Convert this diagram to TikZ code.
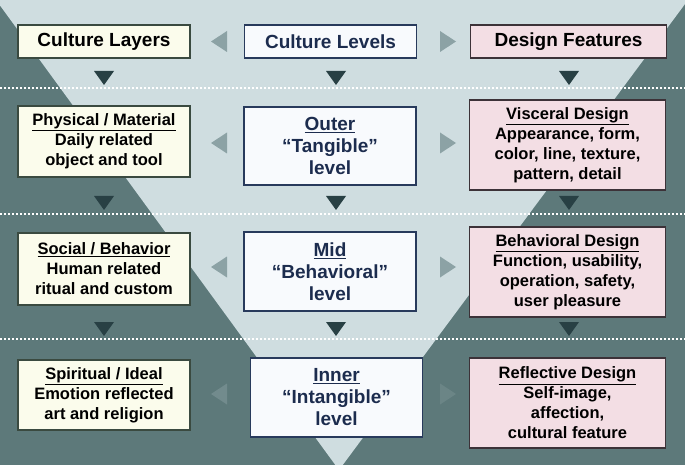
\documentclass[tikz,border=0pt]{standalone}
\usepackage{fontspec}
\setmainfont{Liberation Sans}
\definecolor{bgdark}{RGB}{93,121,122}
\definecolor{bglight}{RGB}{207,221,224}
\definecolor{layerfill}{RGB}{251,252,236}
\definecolor{levelfill}{RGB}{248,250,253}
\definecolor{featfill}{RGB}{243,222,228}
\definecolor{layerline}{RGB}{58,74,64}
\definecolor{levelline}{RGB}{40,58,92}
\definecolor{featline}{RGB}{60,50,56}
\definecolor{levelink}{RGB}{28,44,78}
\definecolor{sidearrow}{RGB}{140,162,165}
\definecolor{downarrow}{RGB}{40,64,68}
\begin{document}
\begin{tikzpicture}[x=1pt,y=-1pt]
    \tikzset{box/.style = {draw,line width=1.3pt,align=center,inner sep=0pt,font=\bfseries\fontsize{16.5}{20}\selectfont}}
    \tikzset{layer/.style = {box,fill=layerfill,draw=layerline,text=black,minimum width=172pt}}
    \tikzset{level/.style = {box,fill=levelfill,draw=levelline,text=levelink,minimum width=172pt,font=\bfseries\fontsize{19}{22}\selectfont}}
    \tikzset{feature/.style = {box,fill=featfill,draw=featline,text=black,minimum width=196pt}}
    \tikzset{band/.style = {white,line width=2pt,dash pattern=on 2pt off 2pt}}
    \useasboundingbox (0,0) rectangle (685,465);
    \clip (0,0) rectangle (685,465);
    \fill[bgdark] (0,0) rectangle (685,465);
    \fill[bglight] (-4,0) -- (688,0) -- (339,470) -- cycle;
    \foreach \y in {88,214,339}
        \draw[band] (0,\y) -- (685,\y);
    \node[layer,minimum height=33pt,font=\bfseries\fontsize{19}{22}\selectfont] (layers) at (104,41.5) {Culture Layers};
    \node[level,minimum height=33pt] (levels) at (330.5,41.5) {Culture Levels};
    \node[feature,minimum height=33pt,font=\bfseries\fontsize{19}{22}\selectfont] (features) at (568.5,41.5) {Design Features};
    \node[layer,minimum height=71pt] (physical) at (104,141.5) {\underline{Physical / Material}\\Daily related\\object and tool};
    \node[level,minimum height=78pt] (outer) at (330,146) {\underline{Outer}\\“Tangible”\\level};
    \node[feature,minimum height=90pt] (visceral) at (567.5,145) {\underline{Visceral Design}\\Appearance, form,\\color, line, texture,\\pattern, detail};
    \node[layer,minimum height=72pt] (social) at (104,269) {\underline{Social / Behavior}\\Human related\\ritual and custom};
    \node[level,minimum height=79pt] (mid) at (330,271.5) {\underline{Mid}\\“Behavioral”\\level};
    \node[feature,minimum height=90pt] (behavioral) at (567.5,272) {\underline{Behavioral Design}\\Function, usability,\\operation, safety,\\user pleasure};
    \node[layer,minimum height=70pt] (spiritual) at (104,395) {\underline{Spiritual / Ideal}\\Emotion reflected\\art and religion};
    \node[level,minimum height=79pt] (inner) at (336.5,397.5) {\underline{Inner}\\“Intangible”\\level};
    \node[feature,minimum height=90pt] (reflective) at (567.5,403) {\underline{Reflective Design}\\Self-image,\\affection,\\cultural feature};
    \foreach \y/\o in {41.5/1,143/1,267/1,394/0.45}
        \fill[sidearrow,opacity=\o] (211,\y) -- (227,\y-10.5) -- (227,\y+10.5) -- cycle;
    \foreach \y/\o in {41.5/1,143/1,267/1,394/0.3}
        \fill[sidearrow,opacity=\o] (456,\y) -- (440,\y-10.5) -- (440,\y+10.5) -- cycle;
    \foreach \x in {104,336,569}
        \foreach \y in {71,196,322}
            \fill[downarrow] (\x-10,\y) -- (\x+10,\y) -- (\x,\y+14) -- cycle;
\end{tikzpicture}
\end{document}
